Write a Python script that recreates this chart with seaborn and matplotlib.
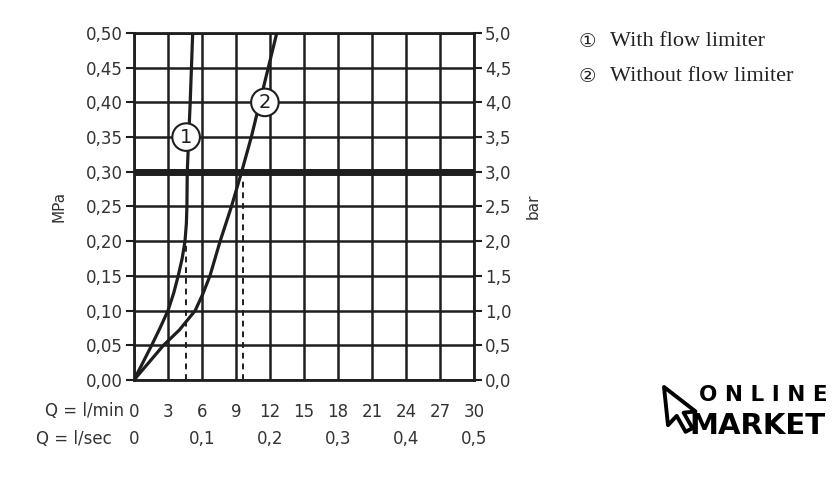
import numpy as np
import pandas as pd
import matplotlib
matplotlib.use("Agg")
import matplotlib.pyplot as plt
from matplotlib.patches import Polygon
import seaborn as sns

# flow (l/min) vs pressure (MPa)
q_with = [0, 0.78, 1.56, 2.3, 3.0, 3.5, 3.9, 4.25, 4.5, 4.62, 4.67, 4.7, 4.83, 4.96, 5.07, 5.18]
p_with = [0, 0.025, 0.05, 0.075, 0.10, 0.125, 0.15, 0.175, 0.20, 0.225, 0.25, 0.30, 0.35, 0.40, 0.45, 0.50]
q_without = [0, 1.3, 2.6, 4.0, 5.4, 6.1, 6.7, 7.6, 8.6, 9.5, 10.35, 11.1, 11.85, 12.6]
p_without = [0, 0.025, 0.05, 0.072, 0.10, 0.125, 0.15, 0.20, 0.25, 0.30, 0.35, 0.40, 0.45, 0.50]

# working point marks (dashed drop lines)
q_marks = [4.6, 9.6]
p_marks = [0.20, 0.29]
working_pressure = 0.30

lpm_ticks = [0, 3, 6, 9, 12, 15, 18, 21, 24, 27, 30]
lps_ticks = ["0", "0,1", "0,2", "0,3", "0,4", "0,5"]
mpa_ticks = [0, 0.05, 0.10, 0.15, 0.20, 0.25, 0.30, 0.35, 0.40, 0.45, 0.50]
bar_ticks = [0, 0.5, 1.0, 1.5, 2.0, 2.5, 3.0, 3.5, 4.0, 4.5, 5.0]
legend_marks = ["\u2460", "\u2461"]
legend_items = ["With flow limiter", "Without flow limiter"]

sns.set_theme(style="white")
plt.rcParams["font.family"] = ["DejaVu Sans"]
ink = "#1e1e1e"

fig = plt.figure(figsize=(8.4, 4.88), dpi=100)
ax = fig.add_axes([0.1595, 0.2213, 0.4048, 0.7111])

df = pd.concat([
    pd.DataFrame({"Q": q_with, "P": p_with, "curve": "1"}),
    pd.DataFrame({"Q": q_without, "P": p_without, "curve": "2"}),
])
sns.lineplot(data=df, x="Q", y="P", units="curve", estimator=None, sort=False,
             color=ink, lw=2.3, ax=ax, legend=False)

for q, p in zip(q_marks, p_marks):
    ax.plot([q, q], [0, p], color=ink, lw=1.4, ls=(0, (3, 2.5)))
ax.axhline(working_pressure, color=ink, lw=5, zorder=3)

ax.set_xlim(0, 30)
ax.set_ylim(0, 0.5)
ax.set_xticks(lpm_ticks)
ax.set_xticklabels([str(t) for t in lpm_ticks])
ax.set_yticks(mpa_ticks)
ax.set_yticklabels([f"{t:.2f}".replace(".", ",") for t in mpa_ticks])
ax.grid(True, color=ink, lw=1.8)
ax.set_axisbelow(True)
for s in ax.spines.values():
    s.set_color(ink)
    s.set_linewidth(2)
ax.tick_params(axis="y", left=True, length=6, width=1.5, color=ink, labelsize=12,
               labelcolor="#333333", pad=2)
ax.tick_params(axis="x", bottom=False, labelsize=12, labelcolor="#333333", pad=10.5)
ax.set_xlabel("")
ax.set_ylabel("MPa", fontsize=11, color="#333333", labelpad=14)

ax2 = ax.twinx()
ax2.set_ylim(0, 5)
ax2.set_yticks(bar_ticks)
ax2.set_yticklabels([f"{t:.1f}".replace(".", ",") for t in bar_ticks])
ax2.tick_params(axis="y", right=True, length=6, width=1.5, color=ink, labelsize=12,
                labelcolor="#333333", pad=2)
ax2.set_ylabel("bar", fontsize=11, color="#333333", labelpad=10)
ax2.grid(False)
for s in ax2.spines.values():
    s.set_visible(False)

# second row of flow labels (l/sec)
trans = ax.get_xaxis_transform()
for i, lab in enumerate(lps_ticks):
    ax.text(i * 6, -0.17, lab, transform=trans, ha="center", va="center",
            fontsize=12, color="#333333")
ax.text(-0.028, -0.088, "Q = l/min", transform=ax.transAxes, ha="right", va="center",
        fontsize=12, color="#333333")
ax.text(-0.065, -0.17, "Q = l/sec", transform=ax.transAxes, ha="right", va="center",
        fontsize=12, color="#333333")

# circled curve labels
circle = dict(boxstyle="circle,pad=0.22", fc="white", ec=ink, lw=1.5)
ax.text(4.6, 0.35, "1", ha="center", va="center", fontsize=14, color=ink, bbox=circle, zorder=5)
ax.text(11.55, 0.40, "2", ha="center", va="center", fontsize=14, color=ink, bbox=circle, zorder=5)

# legend text
for i, (mark, item) in enumerate(zip(legend_marks, legend_items)):
    y = 0.914 - i * 0.07
    fig.text(0.689, y, mark, fontsize=14, color="#222222", va="center")
    fig.text(0.726, y, item, fontsize=16, color="#222222",
             family=["Liberation Serif", "DejaVu Sans"], va="center")

# logo
fig.text(0.832, 0.19, "O N L I N E", fontsize=15.5, weight="bold", color="black",
         ha="left", va="center")
fig.text(0.821, 0.128, "MARKET", fontsize=21, weight="heavy", color="black",
         ha="left", va="center")
shape = np.array([(0, 0), (0, 16), (4, 12.5), (7, 19.5), (10, 18.3), (7, 11.5), (12, 11.5)]) * 2.4
th = np.radians(6)
cx = shape[:, 0] * np.cos(th) + shape[:, 1] * np.sin(th) + 664
cy = -shape[:, 0] * np.sin(th) + shape[:, 1] * np.cos(th) + 387
cursor = Polygon(np.column_stack([cx / 840, 1 - cy / 488]), closed=True,
                 fill=False, ec="black", lw=2.8, joinstyle="round",
                 transform=fig.transFigure)
fig.patches.append(cursor)

fig.savefig("out.png", dpi=100, facecolor="white")
